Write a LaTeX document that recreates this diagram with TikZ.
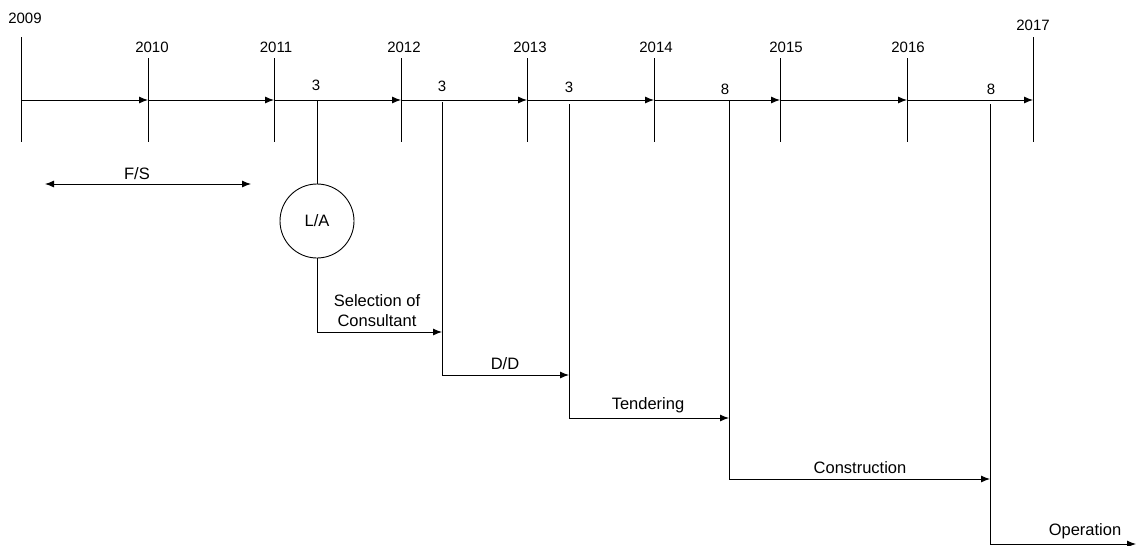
\documentclass[tikz,border=0pt]{standalone}
\usepackage{fontspec}
\setmainfont{Liberation Sans}
\usetikzlibrary{arrows.meta,calc}
\begin{document}
\begin{tikzpicture}[x=1pt,y=-1pt,
  line width=0.9pt,
  lbl/.style={inner sep=0pt,font=\fontsize{15}{18}\selectfont},
  wlbl/.style={inner sep=0pt,font=\fontsize{16.5}{20}\selectfont},
  tip/.style={-{Latex[length=9pt,width=7pt]}},
  dtip/.style={{Latex[length=9pt,width=7pt]}-{Latex[length=9pt,width=7pt]}},
  tick/.style={draw=black}]
\useasboundingbox (0,0) rectangle (1136,546);
% axis points
\foreach \n/\x in {2009/21,2010/148,2011/274,2012/401,2013/527,2014/654,2015/780,2016/907,2017/1033}{
  \coordinate (a\n) at (\x,100);
  \coordinate (d\n) at (\x,142);
}
\coordinate (t2009) at (21,37);
\coordinate (t2017) at (1033,37);
\foreach \n in {2010,2011,2012,2013,2014,2015,2016}{
  \coordinate (t\n) at ($(a\n)+(0,-42)$);
}
% year labels
\node[lbl] (y2009) at (25,18) {2009};
\node[lbl] (y2010) at (152,47) {2010};
\node[lbl] (y2011) at (276,47) {2011};
\node[lbl] (y2012) at (404,47) {2012};
\node[lbl] (y2013) at (530,47) {2013};
\node[lbl] (y2014) at (656,47) {2014};
\node[lbl] (y2015) at (786,47) {2015};
\node[lbl] (y2016) at (908,47) {2016};
\node[lbl] (y2017) at (1033,25) {2017};
% ticks
\foreach \n in {2009,2010,2011,2012,2013,2014,2015,2016,2017}{
  \draw[tick] (t\n) -- (d\n);
}
% axis arrows
\draw[tip] (a2009) -- (a2010);
\draw[tip] (a2010) -- (a2011);
\draw[tip] (a2011) -- (a2012);
\draw[tip] (a2012) -- (a2013);
\draw[tip] (a2013) -- (a2014);
\draw[tip] (a2014) -- (a2015);
\draw[tip] (a2015) -- (a2016);
\draw[tip] (a2016) -- (a2017);
% duration numbers
\node[lbl] (n1) at (316,85) {3};
\node[lbl] (n2) at (442,86) {3};
\node[lbl] (n3) at (569,87) {3};
\node[lbl] (n4) at (725,89) {8};
\node[lbl] (n5) at (991,89) {8};
% F/S
\coordinate (fs1) at (45,184);
\coordinate (fs2) at (251,184);
\draw[dtip] (fs1) -- (fs2);
\node[wlbl] (fsl) at (137,174) {F/S};
% L/A branch
\coordinate (b1) at (317,100);
\node[draw,circle,minimum size=74pt,inner sep=0pt,wlbl] (la) at (317,221) {L/A};
\draw (b1) -- (la.north);
\coordinate (c1) at (317,332);
\coordinate (e1) at (442,332);
\draw[tip] (la.south) -- (c1) -- (e1);
\node[wlbl,align=center] (sel) at (377,311) {Selection of\\Consultant};
% D/D branch
\coordinate (b2) at (442,102);
\coordinate (c2) at (442,375);
\coordinate (e2) at (569,375);
\draw[tip] (b2) -- (c2) -- (e2);
\node[wlbl] (dd) at (505,364) {D/D};
% Tendering branch
\coordinate (b3) at (569,104);
\coordinate (c3) at (569,418);
\coordinate (e3) at (729,418);
\draw[tip] (b3) -- (c3) -- (e3);
\node[wlbl] (tend) at (648,405) {Tendering};
% Construction branch
\coordinate (b4) at (729,100);
\coordinate (c4) at (729,479);
\coordinate (e4) at (990,479);
\draw[tip] (b4) -- (c4) -- (e4);
\node[wlbl] (cons) at (860,468) {Construction};
% Operation branch
\coordinate (b5) at (990,104);
\coordinate (c5) at (990,544);
\coordinate (e5) at (1136,544);
\draw[tip] (b5) -- (c5) -- (e5);
\node[wlbl] (op) at (1085,531) {Operation};
\end{tikzpicture}
\end{document}
